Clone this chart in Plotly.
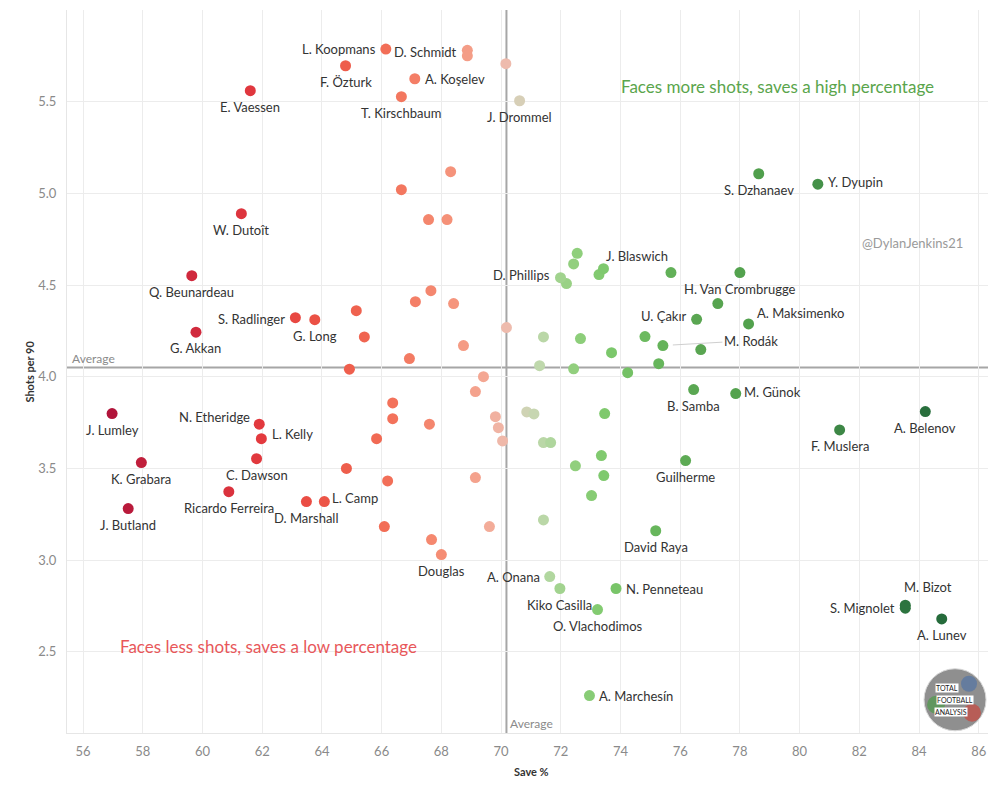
import plotly.graph_objects as go

# ---------------- data ----------------
names = [
    "L. Koopmans", "D. Schmidt", "", "F. Özturk", "A. Koşelev", "E. Vaessen",
    "T. Kirschbaum", "J. Drommel", "", "W. Dutoît", "S. Dzhanaev", "Y. Dyupin",
    "", "", "", "", "J. Blaswich", "", "D. Phillips", "", "",
    "H. Van Crombrugge", "", "A. Maksimenko", "U. Çakır", "M. Rodák", "",
    "B. Samba", "M. Günok", "A. Belenov", "F. Muslera", "Guilherme", "David Raya",
    "Q. Beunardeau", "G. Akkan", "S. Radlinger", "G. Long", "J. Lumley",
    "N. Etheridge", "L. Kelly", "K. Grabara", "J. Butland", "C. Dawson",
    "Ricardo Ferreira", "D. Marshall", "L. Camp", "Douglas", "A. Onana",
    "Kiko Casilla", "O. Vlachodimos", "N. Penneteau", "A. Marchesín",
    "M. Bizot", "S. Mignolet", "A. Lunev",
    "", "", "", "", "", "", "", "", "", "", "", "", "", "", "", "", "", "",
    "", "", "", "", "", "", "", "", "", "", "", "", "", "", "", "", "", "",
    "", "", "", "", "", "", "", "", "",
]
save_pct = [
    66.14, 68.87, 68.87, 64.79, 67.11, 61.60,
    66.66, 70.62, 70.16, 61.30, 78.63, 80.61,
    72.55, 72.43, 72.19, 73.28, 73.43, 75.69, 71.99, 68.31, 66.66,
    78.00, 77.26, 78.29, 76.55, 75.42, 76.69,
    76.45, 77.86, 84.21, 81.34, 76.18, 75.18,
    59.64, 59.78, 63.11, 63.76, 56.97,
    61.90, 61.97, 57.95, 57.51, 61.81,
    60.88, 63.48, 64.08, 68.00, 71.63,
    71.97, 73.23, 73.85, 72.96,
    83.54, 83.54, 84.76,
    67.57, 68.19, 67.65, 67.13, 68.41, 65.15, 65.42, 70.18, 68.74, 66.93, 64.92, 71.42,
    72.66, 74.82, 73.70, 75.28, 71.29, 72.43, 74.24, 69.41, 69.14, 66.37, 66.37, 67.60,
    65.83, 64.82, 69.81, 69.91, 70.05, 70.86, 71.10, 71.42, 71.66, 73.47, 72.49, 73.36,
    73.44, 73.03, 66.20, 69.14, 66.09, 69.61, 67.67, 71.42,
]
shots_p90 = [
    5.787, 5.780, 5.750, 5.696, 5.625, 5.560,
    5.527, 5.505, 5.707, 4.889, 5.107, 5.050,
    4.673, 4.615, 4.508, 4.557, 4.589, 4.568, 4.540, 5.118, 5.020,
    4.568, 4.399, 4.288, 4.313, 4.170, 4.148,
    3.930, 3.908, 3.810, 3.710, 3.543, 3.160,
    4.551, 4.243, 4.322, 4.311, 3.799,
    3.741, 3.662, 3.532, 3.281, 3.553,
    3.373, 3.319, 3.319, 3.030, 2.910,
    2.845, 2.730, 2.845, 2.261,
    2.754, 2.738, 2.679,
    4.857, 4.857, 4.469, 4.409, 4.399, 4.360, 4.217, 4.268, 4.170, 4.099, 4.041, 4.217,
    4.208, 4.219, 4.131, 4.071, 4.060, 4.043, 4.022, 4.000, 3.919, 3.857, 3.771, 3.741,
    3.662, 3.500, 3.782, 3.722, 3.650, 3.808, 3.797, 3.641, 3.641, 3.799, 3.514, 3.570,
    3.461, 3.352, 3.432, 3.450, 3.183, 3.183, 3.112, 3.219,
]
avg_save = 70.18
avg_shots = 4.05
x_ticks = [56, 58, 60, 62, 64, 66, 68, 70, 72, 74, 76, 78, 80, 82, 84, 86]
y_ticks = [2.5, 3.0, 3.5, 4.0, 4.5, 5.0, 5.5]

# ---------------- styles ----------------
LABEL_FONT = "Lato"
color_stops = [
    (56.9, "#b0133a"), (58.0, "#c1203b"), (60.0, "#d32b3d"), (62.0, "#e33a3e"),
    (64.0, "#ec5446"), (66.0, "#f26c55"), (68.0, "#f58d74"), (69.5, "#f4a995"),
    (70.2, "#eebcae"), (70.6, "#d8cfb7"), (71.2, "#c3d8b0"), (71.6, "#b2d7a0"),
    (72.3, "#94d080"), (73.5, "#7ec96d"), (75.0, "#69b85d"), (76.5, "#5aa652"),
    (78.5, "#51a04c"), (80.5, "#46924a"), (82.0, "#367f43"), (84.8, "#256b3b"),
]
cmin, cmax = color_stops[0][0], color_stops[-1][0]
colorscale = [[(v - cmin) / (cmax - cmin), c] for v, c in color_stops]

# label placement: (mode, dx, dy) in pixels (dy positive = down)
label_style = {
    "L. Koopmans": ("left", 0, 0),
    "D. Schmidt": ("left", 0, 2),
    "A. Koşelev": ("right", 0, 0),
    "Y. Dyupin": ("right", 0, -2),
    "J. Blaswich": ("center", 34, -13),
    "D. Phillips": ("left", 0, -3),
    "A. Maksimenko": ("rightc", 6, -11),
    "U. Çakır": ("left", 0, -3),
    "M. Günok": ("right", -2, -2),
    "S. Radlinger": ("left", 0, 1),
    "N. Etheridge": ("left", 1, -7),
    "L. Kelly": ("right", 1, -5),
    "L. Camp": ("right", -2, -4),
    "A. Onana": ("left", 0, 0),
    "N. Penneteau": ("right", 0, 0),
    "A. Marchesín": ("right", 0, 0),
    "M. Bizot": ("center", 23, -18),
    "S. Mignolet": ("left", 0, 0),
}

fig = go.Figure()
fig.add_trace(go.Scatter(
    x=save_pct, y=shots_p90, mode="markers",
    marker=dict(size=11, color=save_pct, colorscale=colorscale, cmin=cmin, cmax=cmax,
                showscale=False, line=dict(width=0)),
    text=names, hoverinfo="text+x+y", showlegend=False,
))

annotations = []
for n, xv, yv in zip(names, save_pct, shots_p90):
    if not n or n == "M. Rodák":
        continue
    mode, dx, dy = label_style.get(n, ("below", 0, 0))
    a = dict(x=xv, y=yv, xref="x", yref="y", text=n, showarrow=False,
             font=dict(family=LABEL_FONT, size=13, color="#333333"), yanchor="middle")
    if mode == "below":
        a.update(xanchor="center", xshift=dx, yshift=-16 - dy)
    elif mode == "left":
        a.update(xanchor="right", xshift=-8 + dx, yshift=-dy)
    elif mode == "right":
        a.update(xanchor="left", xshift=8 + dx, yshift=-dy)
    elif mode == "rightc":
        a.update(xanchor="left", xshift=dx, yshift=-dy)
    else:
        a.update(xanchor="center", xshift=dx, yshift=-dy)
    annotations.append(a)

# M. Rodák with leader line
i_r = names.index("M. Rodák")
annotations.append(dict(
    x=save_pct[i_r], y=shots_p90[i_r], xref="x", yref="y", text="M. Rodák",
    showarrow=True, arrowhead=0, arrowwidth=1, arrowcolor="#cfcfcf", standoff=10,
    ax=88, ay=-5, font=dict(family=LABEL_FONT, size=13, color="#333333"),
))

# average labels
annotations.append(dict(x=0.003, xref="paper", y=avg_shots, yref="y", text="Average",
                        showarrow=False, xanchor="left", yanchor="middle", yshift=9,
                        font=dict(family=LABEL_FONT, size=12, color="#8a8a8a")))
annotations.append(dict(x=avg_save, xref="x", y=0, yref="paper", text="Average",
                        showarrow=False, xanchor="left", yanchor="middle", xshift=2, yshift=10,
                        font=dict(family=LABEL_FONT, size=12, color="#8a8a8a")))

# quadrant texts
annotations.append(dict(x=0.7714, y=0.8935, xref="paper", yref="paper",
                        xanchor="center", yanchor="middle",
                        text="Faces more shots, saves a high percentage", showarrow=False,
                        font=dict(family=LABEL_FONT, size=17, color="#5aa54c")))
annotations.append(dict(x=0.219, y=0.1193, xref="paper", yref="paper",
                        xanchor="center", yanchor="middle",
                        text="Faces less shots, saves a low percentage", showarrow=False,
                        font=dict(family=LABEL_FONT, size=17, color="#e8575a")))
annotations.append(dict(x=0.9175, y=0.678, xref="paper", yref="paper",
                        xanchor="center", yanchor="middle",
                        text="@DylanJenkins21", showarrow=False,
                        font=dict(family=LABEL_FONT, size=13, color="#9a9a9a")))

# axis titles
annotations.append(dict(x=0.5047, y=-0.0535, xref="paper", yref="paper", text="<b>Save %</b>",
                        showarrow=False, xanchor="center", yanchor="middle",
                        font=dict(family=LABEL_FONT, size=11, color="#333333")))
annotations.append(dict(x=-0.0405, y=0.4995, xref="paper", yref="paper", text="<b>Shots per 90</b>",
                        showarrow=False, textangle=-90, xanchor="center", yanchor="middle",
                        font=dict(family=LABEL_FONT, size=11, color="#333333")))

# logo text
logo_x, logo_y = 0.9642, 0.046
for txt, dy, dx in [("TOTAL", 12, -8), ("FOOTBALL", 0, 0), ("ANALYSIS", -12, -4)]:
    annotations.append(dict(x=logo_x, y=logo_y, xref="paper", yref="paper", text=txt,
                            showarrow=False, xanchor="center", yanchor="middle",
                            xshift=dx, yshift=dy, bgcolor="#ffffff",
                            borderpad=0, font=dict(family=LABEL_FONT, size=7, color="#222222")))

shapes = [
    dict(type="line", xref="paper", yref="y", x0=0, x1=1, y0=avg_shots, y1=avg_shots,
         line=dict(color="#a6a6a6", width=2), layer="below"),
    dict(type="line", xref="x", yref="paper", x0=avg_save, x1=avg_save, y0=0, y1=1,
         line=dict(color="#a6a6a6", width=2), layer="below"),
    dict(type="circle", xref="paper", yref="paper", xsizemode="pixel", ysizemode="pixel",
         xanchor=logo_x, yanchor=logo_y, x0=-31, x1=31, y0=-31, y1=31,
         fillcolor="#8f8f8f", line=dict(color="#d8d8d8", width=1)),
    dict(type="circle", xref="paper", yref="paper", xsizemode="pixel", ysizemode="pixel",
         xanchor=logo_x, yanchor=logo_y, x0=-28, x1=-10, y0=-14, y1=4,
         fillcolor="#4f9a4a", line=dict(width=0), opacity=0.7),
    dict(type="circle", xref="paper", yref="paper", xsizemode="pixel", ysizemode="pixel",
         xanchor=logo_x, yanchor=logo_y, x0=8, x1=26, y0=-22, y1=-4,
         fillcolor="#c8473f", line=dict(width=0), opacity=0.7),
    dict(type="circle", xref="paper", yref="paper", xsizemode="pixel", ysizemode="pixel",
         xanchor=logo_x, yanchor=logo_y, x0=6, x1=22, y0=8, y1=24,
         fillcolor="#4a6fa8", line=dict(width=0), opacity=0.6),
]

fig.update_layout(
    width=1000, height=800,
    margin=dict(l=67, r=12, t=10, b=67),
    paper_bgcolor="white", plot_bgcolor="white",
    font=dict(family=LABEL_FONT, color="#333333"),
    xaxis=dict(range=[55.46, 86.31], tickvals=x_ticks, ticktext=[str(v) for v in x_ticks],
               showgrid=True, gridcolor="#ececec", gridwidth=1, zeroline=False,
               showline=True, linecolor="#e6e6e6", linewidth=1,
               ticks="", ticklabelstandoff=6,
               tickfont=dict(family=LABEL_FONT, size=13, color="#8a8a8a")),
    yaxis=dict(range=[2.057, 6.0], tickvals=y_ticks, ticktext=[f"{v:.1f}" for v in y_ticks],
               showgrid=True, gridcolor="#ececec", gridwidth=1, zeroline=False,
               showline=True, linecolor="#e6e6e6", linewidth=1,
               ticks="", ticklabelstandoff=7,
               tickfont=dict(family=LABEL_FONT, size=13, color="#8a8a8a")),
    annotations=annotations,
    shapes=shapes,
    hovermode="closest",
)

fig.write_html("out.html")
